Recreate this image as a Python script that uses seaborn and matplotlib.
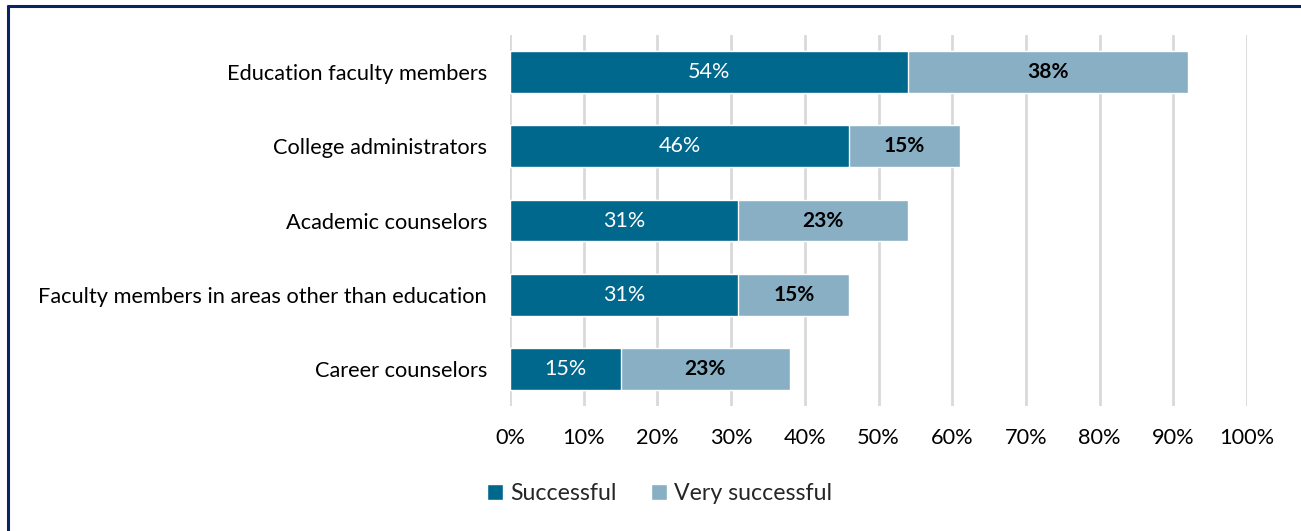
import matplotlib
matplotlib.use("Agg")
import matplotlib.pyplot as plt
from matplotlib.lines import Line2D
from matplotlib.patches import Patch
import seaborn as sns
import pandas as pd

categories = [
    "Education faculty members",
    "College administrators",
    "Academic counselors",
    "Faculty members in areas other than education",
    "Career counselors",
]
successful = [54, 46, 31, 31, 15]
very_successful = [38, 15, 23, 15, 23]
xticks = [0, 10, 20, 30, 40, 50, 60, 70, 80, 90, 100]

dark = "#00688C"
light = "#88AFC4"
navy = "#0A2463"

sns.set_theme(style="white")
plt.rcParams["font.family"] = ["Lato", "DejaVu Sans"]

df = pd.DataFrame({
    "category": categories,
    "successful": successful,
    "very": very_successful,
})
df["total"] = df["successful"] + df["very"]

fig = plt.figure(figsize=(13.01, 5.31), dpi=100)
ax = fig.add_axes([0.392, 0.2354, 0.5665, 0.6986])

# stacked bars: totals underneath, first segment on top
sns.barplot(data=df, y="category", x="total", orient="h", color=light,
            width=0.565, saturation=1, ax=ax, zorder=2)
sns.barplot(data=df, y="category", x="successful", orient="h", color=dark,
            width=0.565, saturation=1, ax=ax, zorder=3)

ax.set_xlim(0, 100)
ax.set_ylim(4.5, -0.5)
ax.set_xticks(xticks)
ax.set_xticklabels([f"{t}%" for t in xticks])
ax.set_xlabel("")
ax.set_ylabel("")
ax.xaxis.grid(True, color="#D9D9D9", linewidth=2)
ax.set_axisbelow(True)
for s in ax.spines.values():
    s.set_visible(False)
ax.tick_params(axis="both", length=0, labelsize=15.7, colors="#000000")
ax.tick_params(axis="y", pad=16.5)
ax.tick_params(axis="x", pad=16)

for i, (s, v) in enumerate(zip(successful, very_successful)):
    ax.text(s / 2, i, f"{s}%", ha="center", va="center", color="white",
            fontsize=15.5, zorder=5)
    ax.text(s + v / 2, i, f"{v}%", ha="center", va="center", color="black",
            fontsize=15, fontweight="bold", zorder=5)

handles = [Patch(facecolor=dark, label="Successful"),
           Patch(facecolor=light, label="Very successful")]
fig.legend(handles=handles, loc="center", bbox_to_anchor=(0.507, 0.071),
           ncol=2, frameon=False, fontsize=16.7, handlelength=0.7,
           handleheight=0.7, handletextpad=0.3, columnspacing=1.5)

# frame along the top and left edges
fig.add_artist(Line2D([7.5 / 1301, 1.0], [1 - 5.5 / 531] * 2,
                      transform=fig.transFigure, color=navy, linewidth=2.2))
fig.add_artist(Line2D([7.5 / 1301] * 2, [0.0, 1 - 5.5 / 531],
                      transform=fig.transFigure, color=navy, linewidth=2.2))

fig.savefig("out.png", dpi=100, facecolor="white")
